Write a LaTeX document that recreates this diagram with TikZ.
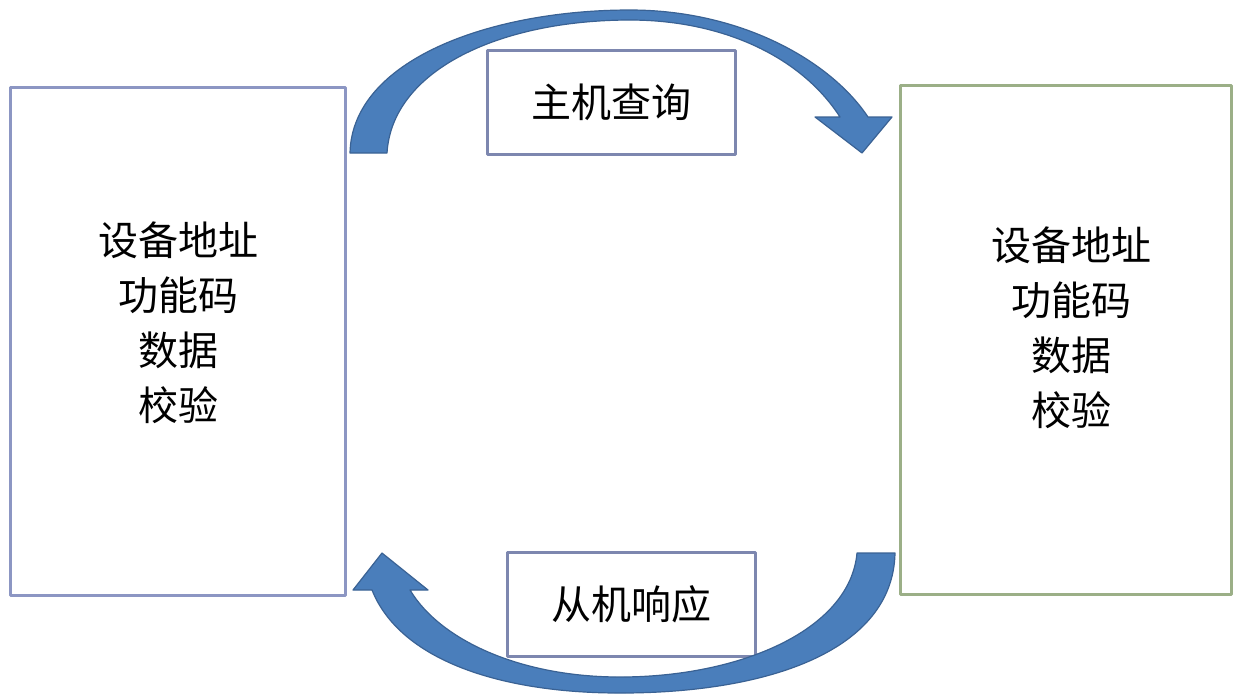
\documentclass[tikz,border=0pt]{standalone}
\usepackage{fontspec}
\setmainfont{Noto Sans CJK SC}
\definecolor{arrowblue}{RGB}{74,126,187}
\definecolor{arrowedge}{RGB}{58,98,148}
\definecolor{leftedge}{RGB}{140,150,195}
\definecolor{rightedge}{RGB}{155,175,135}
\definecolor{tagedge}{RGB}{125,135,175}
\begin{document}
\begin{tikzpicture}[x=0.5pt,y=-0.5pt,line join=round,font=\fontsize{20}{27.5}\selectfont,
	devbox/.style={draw,line width=1.5pt,inner sep=0pt},
	tagbox/.style={draw=tagedge,line width=1.5pt,inner sep=0pt,minimum width=124pt,minimum height=52pt},
	fields/.style={align=center,inner sep=0pt},
	bigarrow/.style={fill=arrowblue,draw=arrowedge,line width=0.6pt}]
	\useasboundingbox (0,0) rectangle (1234,693);
	\node[devbox,draw=leftedge,minimum width=167.5pt,minimum height=254pt] (master) at (177.5,341) {};
	\node[devbox,draw=rightedge,minimum width=165.5pt,minimum height=254.5pt] (slave) at (1065.5,339.5) {};
	\node[fields] (masterdata) at (178,323) {设备地址\\功能码\\数据\\校验};
	\node[fields] (slavedata) at (1071,328) {设备地址\\功能码\\数据\\校验};
	\node[tagbox] (query) at (611,102.5) {主机查询};
	\node[tagbox] (reply) at (631.5,604) {从机响应};
	% query arrow
	\draw[bigarrow] (350,153) .. controls (352,60) and (490,10) .. (630,10)
		.. controls (740,10) and (830,60) .. (868,117) -- (892,117) -- (862,153) -- (815,117) -- (840,117)
		.. controls (800,55) and (720,20) .. (630,20)
		.. controls (500,20) and (392,70) .. (387,153) -- cycle;
	% reply arrow
	\draw[bigarrow] (857,553) -- (895,553) .. controls (893,650) and (770,693) .. (620,693)
		.. controls (500,693) and (400,660) .. (372,590) -- (353,590) -- (382,553) -- (428,590) -- (410,590)
		.. controls (440,640) and (520,677) .. (620,677)
		.. controls (740,677) and (850,630) .. (857,553) -- cycle;
\end{tikzpicture}
\end{document}
